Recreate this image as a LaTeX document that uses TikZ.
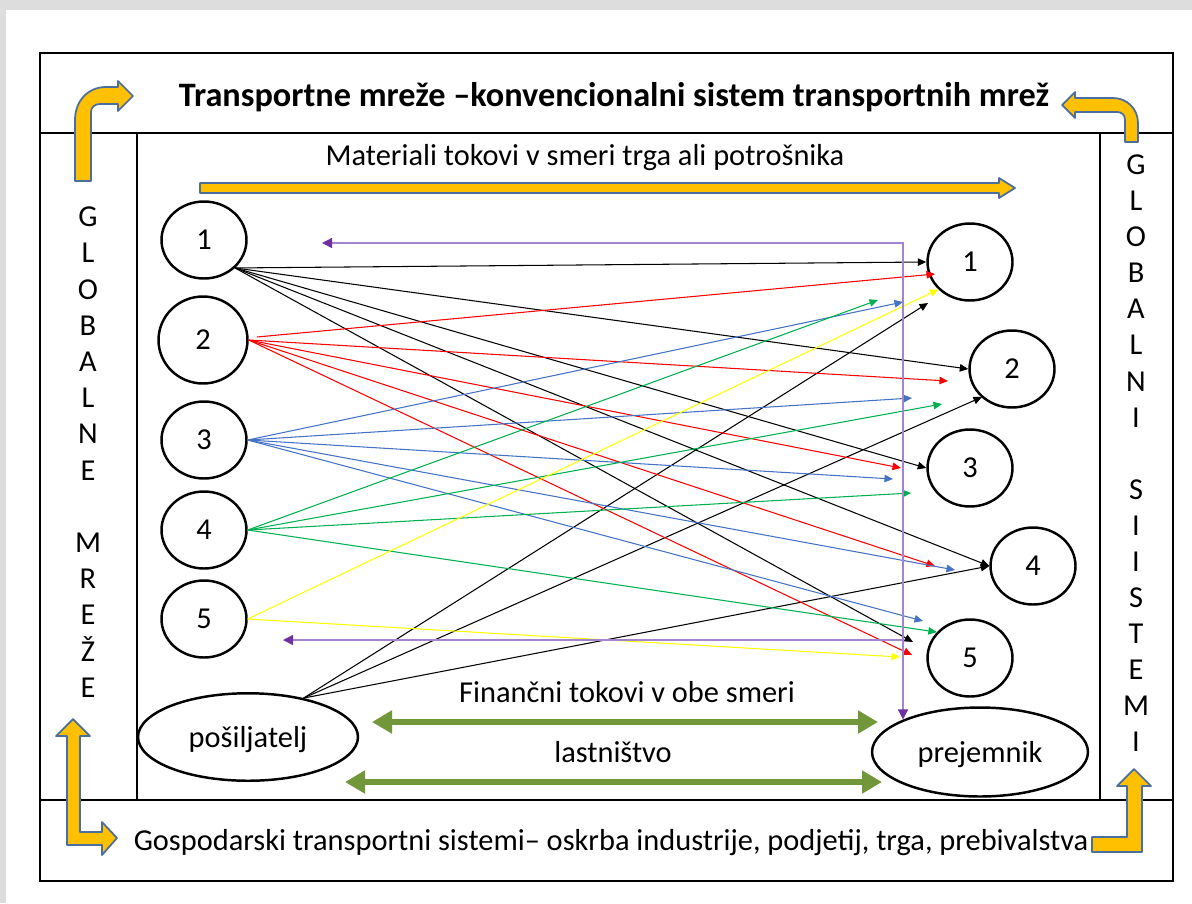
\documentclass[tikz,border=0pt]{standalone}
\usepackage{fontspec}
\setmainfont{Carlito}
\usetikzlibrary{arrows.meta,shapes.geometric}
\definecolor{framegray}{HTML}{DDDDDD}
\definecolor{flowred}{HTML}{FF0000}
\definecolor{flowblue}{HTML}{4472C4}
\definecolor{flowgreen}{HTML}{00B050}
\definecolor{flowyellow}{HTML}{FFFF00}
\definecolor{ownviolet}{HTML}{A384CF}
\definecolor{ownvioletdark}{HTML}{7030A0}
\definecolor{moneygreen}{HTML}{72973A}
\definecolor{bigyellow}{HTML}{FFC000}
\definecolor{bigoutline}{HTML}{4A6E9E}

\begin{document}
\begin{tikzpicture}[x=0.02cm,y=-0.02cm,font=\fontsize{17.3}{20}\selectfont,
  flow/.style={line width=.6pt,-{Triangle[length=1.7mm,width=1.5mm]}},
  place/.style={ellipse,draw,line width=1.4pt,minimum width=1.7cm,minimum height=1.54cm,inner sep=0pt},
  party/.style={ellipse,draw,line width=1.4pt,inner sep=0pt,text depth=0pt},
  box/.style={line width=1.1pt},
  letter/.style={text height=11pt,text depth=0pt,inner sep=0pt},
  bigarrow/.style={fill=bigyellow,draw=bigoutline,line width=1pt,line join=round},
  twoway/.style={moneygreen,line width=3pt,{Triangle[length=4mm,width=4.4mm]}-{Triangle[length=4mm,width=4.4mm]}},
  violetline/.style={ownviolet,line width=.8pt},
  violettip/.tip={Triangle[length=2mm,width=2mm,color=ownvioletdark]}]
  \useasboundingbox (0,0) rectangle (1192,903);
  % page edge and frame
  \fill[framegray] (0,0) rectangle (1192,903);
  \fill[white] (6,10) rectangle (1192,903);
  \draw[box] (40,53) rectangle (1173,881);
  \draw[box] (40,133) -- (1173,133) (40,800) -- (1173,800);
  \draw[box] (137,133) -- (137,800) (1100,133) -- (1100,800);
  % texts
  \node[font=\fontsize{19.5}{22}\selectfont\bfseries] (title) at (614,97) {Transportne mreže –konvencionalni sistem transportnih mrež};
  \node (materials) at (585,158) {Materiali tokovi v smeri trga ali potrošnika};
  \node (finance) at (627,692) {Finančni tokovi v obe smeri};
  \node (ownership) at (613,752) {lastništvo};
  \node (economy) at (611,843) {Gospodarski transportni sistemi– oskrba industrije, podjetij, trga, prebivalstva};
  \foreach \c [count=\i from 0] in {G,L,O,B,A,L,N,E,{},M,R,E,Ž,E}
    \node[letter] (gl\i) at (88,{217+36.2*\i}) {\c};
  \foreach \c [count=\i from 0] in {G,L,O,B,A,L,N,I,{},S,I,I,S,T,E,M,I}
    \node[letter] (gs\i) at (1136,{165+36.06*\i}) {\c};
  % places
  \node[place] (l1) at (204,240) {1};
  \node[place,minimum width=1.78cm,minimum height=1.74cm] (l2) at (203,340) {2};
  \node[place] (l3) at (204,440) {3};
  \node[place] (l4) at (204,530) {4};
  \node[place] (l5) at (204,619) {5};
  \node[party,minimum width=4.4cm,minimum height=1.75cm] (posiljatelj) at (248,737) {pošiljatelj};
  \node[place] (r1) at (970,262) {1};
  \node[place] (r2) at (1012,369) {2};
  \node[place] (r3) at (970,468) {3};
  \node[place] (r4) at (1033,566) {4};
  \node[place] (r5) at (970,658) {5};
  \node[party,minimum width=4.32cm,minimum height=1.78cm] (prejemnik) at (980,752) {prejemnik};
  % free arrow ends
  \coordinate (bk5) at (913,642);
  \coordinate (ps1) at (928,303); \coordinate (ps2) at (982,397);
  \coordinate (rd0) at (257,337); \coordinate (rd1) at (935,274); \coordinate (rd2) at (948,381);
  \coordinate (rd3) at (901,468); \coordinate (rd4) at (935,566); \coordinate (rd5) at (912,655);
  \coordinate (bl1) at (903,302); \coordinate (bl2) at (912,398); \coordinate (bl3) at (893,479);
  \coordinate (bl4) at (955,570); \coordinate (bl5) at (923,621);
  \coordinate (gr1) at (878,300); \coordinate (gr2) at (942,404); \coordinate (gr3) at (911,493);
  \coordinate (ye2) at (900,657);
  % material flows
  \foreach \t in {r1.west,r2.west,r3.west,r4.west,bk5}
    \draw[flow] (l1.-42) -- (\t);
  \foreach \t in {ps1,ps2,r4.west}
    \draw[flow] (posiljatelj.35) -- (\t);
  \draw[flow,flowred] (rd0) -- (rd1);
  \foreach \t in {rd2,rd3,rd4,rd5}
    \draw[flow,flowred] (l2.east) -- (\t);
  \foreach \t in {bl1,bl2,bl3,bl4,bl5}
    \draw[flow,flowblue] (l3.east) -- (\t);
  \foreach \t in {gr1,gr2,gr3,r5.142}
    \draw[flow,flowgreen] (l4.east) -- (\t);
  \foreach \t in {r1.221,ye2}
    \draw[flow,flowyellow] (l5.east) -- (\t);
  % return flows
  \coordinate (vi1) at (322,243); \coordinate (vi2) at (903,243); \coordinate (vi3) at (283,640);
  \draw[violetline,violettip-violettip] (vi1) -- (vi2) -- (vi2 |- prejemnik.157);
  \draw[violetline,-violettip] (vi2 |- vi3) -- (vi3);
  % money and ownership
  \coordinate (fa) at (372,722); \coordinate (fb) at (878,722);
  \coordinate (oa) at (345,782); \coordinate (ob) at (882,782);
  \draw[twoway] (fa) -- (fb);
  \draw[twoway] (oa) -- (ob);
  % big arrows
  \filldraw[bigarrow] (200,183) -- (999,183) -- (999,178) -- (1015,188) -- (999,198) -- (999,193) -- (200,193) -- cycle;
  \filldraw[bigarrow] (75,181) -- (75,120) .. controls (75,101) and (88,87) .. (106,87) -- (118,87) -- (118,81) -- (133,96)
    -- (118,111) -- (118,104) -- (100,104) .. controls (95,104) and (91,107) .. (91,112) -- (91,181) -- cycle;
  \filldraw[bigarrow] (1125,142) -- (1125,120) .. controls (1125,115) and (1122,112) .. (1117,112) -- (1075,112) -- (1075,118)
    -- (1062,105) -- (1075,92) -- (1075,98) -- (1113,98) .. controls (1127,98) and (1138,109) .. (1138,123) -- (1138,142) -- cycle;
  \filldraw[bigarrow] (73,719) -- (90,736) -- (80,736) -- (80,832) -- (102,832) -- (102,822) -- (117,838) -- (102,855)
    -- (102,845) -- (67,845) -- (67,736) -- (56,736) -- cycle;
  \filldraw[bigarrow] (1134,769) -- (1151,786) -- (1142,786) -- (1142,852) -- (1092,852) -- (1092,837) -- (1127,837)
    -- (1127,786) -- (1117,786) -- cycle;
\end{tikzpicture}
\end{document}
